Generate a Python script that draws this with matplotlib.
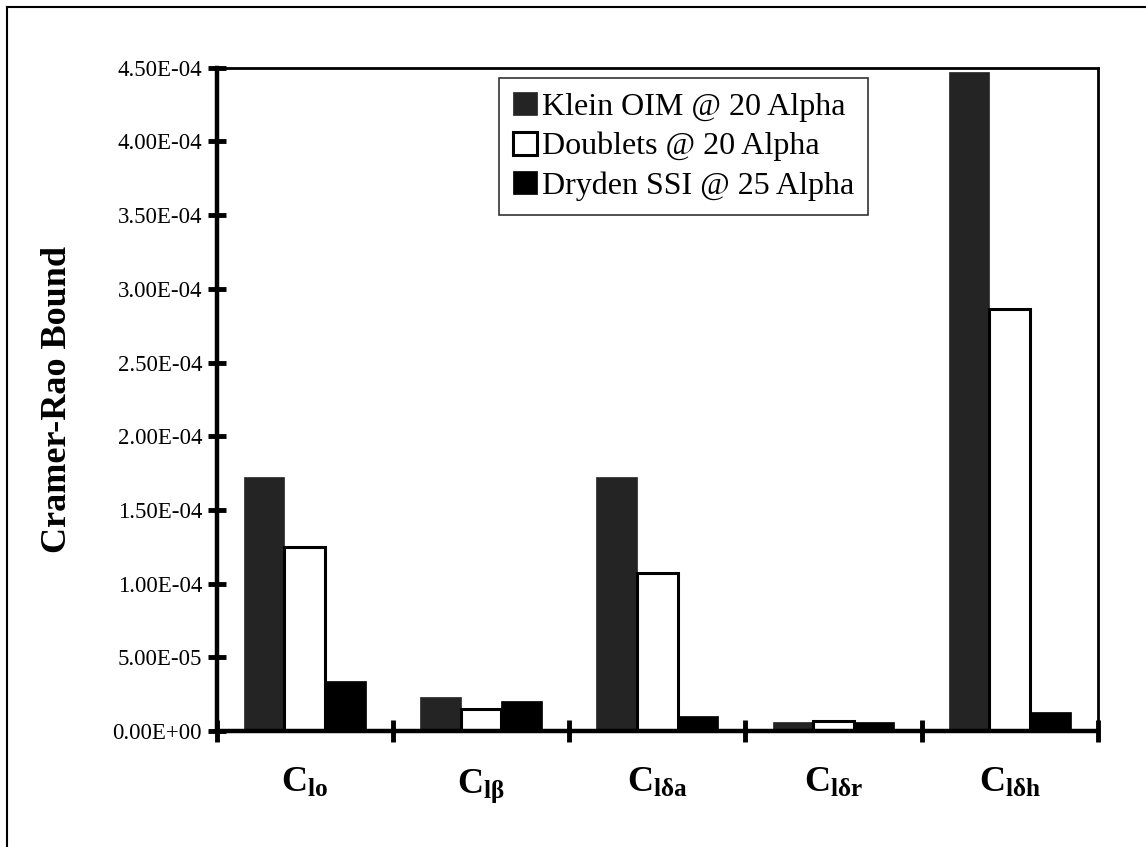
import numpy as np
import matplotlib
matplotlib.use('Agg')
import matplotlib.pyplot as plt
from matplotlib.lines import Line2D
from matplotlib.ticker import FormatStrFormatter

plt.rcParams['font.family'] = ['Liberation Serif', 'DejaVu Serif']
plt.rcParams['mathtext.fontset'] = 'custom'
plt.rcParams['mathtext.rm'] = 'Liberation Serif'
plt.rcParams['mathtext.bf'] = 'Liberation Serif:bold'
plt.rcParams['mathtext.it'] = 'Liberation Serif:italic'

# Data
categories = [r'$\mathbf{C}_{\mathbf{lo}}$', r'$\mathbf{C}_{\mathbf{l\beta}}$',
              r'$\mathbf{C}_{\mathbf{l\delta a}}$', r'$\mathbf{C}_{\mathbf{l\delta r}}$',
              r'$\mathbf{C}_{\mathbf{l\delta h}}$']
series_names = ['Klein OIM @ 20 Alpha', 'Doublets @ 20 Alpha', 'Dryden SSI @ 25 Alpha']
klein = [1.72e-4, 2.3e-5, 1.72e-4, 6e-6, 4.47e-4]
doublets = [1.25e-4, 1.5e-5, 1.07e-4, 7e-6, 2.86e-4]
dryden = [3.4e-5, 2.0e-5, 1.0e-5, 6e-6, 1.3e-5]
yticks = np.arange(0, 4.51e-4, 0.5e-4)

fig = plt.figure(figsize=(11.46, 8.47), dpi=100)
ax = fig.add_axes([0.189, 0.137, 0.769, 0.783])

x = np.arange(len(categories))
w = 0.23
ax.bar(x - w, klein, w, color='#242424', edgecolor='#242424', linewidth=0.5,
       label=series_names[0], zorder=2)
ax.bar(x, doublets, w, color='white', edgecolor='black', linewidth=2.2,
       label=series_names[1], zorder=2)
ax.bar(x + w, dryden, w, color='black', edgecolor='black', linewidth=0.5,
       label=series_names[2], zorder=2)

ax.set_xlim(-0.5, len(categories) - 0.5)
ax.set_ylim(0, 4.5e-4)

# y axis
ax.set_yticks(yticks)
ax.yaxis.set_major_formatter(FormatStrFormatter('%.2E'))
ax.tick_params(axis='y', direction='inout', length=13, width=3.5,
               labelsize=16.5, pad=4)
ax.set_ylabel('Cramer-Rao Bound', fontsize=26, fontweight='bold', labelpad=28)

# x axis: separator ticks between categories, labels at centres
ax.set_xticks(np.arange(-0.5, len(categories), 1.0))
ax.set_xticklabels([])
ax.tick_params(axis='x', which='major', direction='inout', length=16, width=3.5)
ax.set_xticks(x, minor=True)
ax.set_xticklabels(categories, minor=True, fontsize=26)
ax.tick_params(axis='x', which='minor', length=0, pad=26)

for side in ['left', 'bottom']:
    ax.spines[side].set_linewidth(3.2)
for side in ['top', 'right']:
    ax.spines[side].set_linewidth(2.0)

leg = ax.legend(loc='upper left', bbox_to_anchor=(0.32, 0.985), borderaxespad=0,
                fontsize=23, frameon=True, fancybox=False, shadow=False,
                handlelength=0.75, handleheight=0.75, handletextpad=0.15,
                labelspacing=0.3, borderpad=0.45)
leg.get_frame().set_edgecolor('black')
leg.get_frame().set_linewidth(1.2)

# page frame (left and top edges visible in the scan)
fig.add_artist(Line2D([7 / 1146, 7 / 1146], [0, 1 - 7 / 847],
                      transform=fig.transFigure, color='black', linewidth=1.5))
fig.add_artist(Line2D([7 / 1146, 1], [1 - 7 / 847, 1 - 7 / 847],
                      transform=fig.transFigure, color='black', linewidth=1.5))

plt.savefig('out.png', dpi=100)
plt.close()
